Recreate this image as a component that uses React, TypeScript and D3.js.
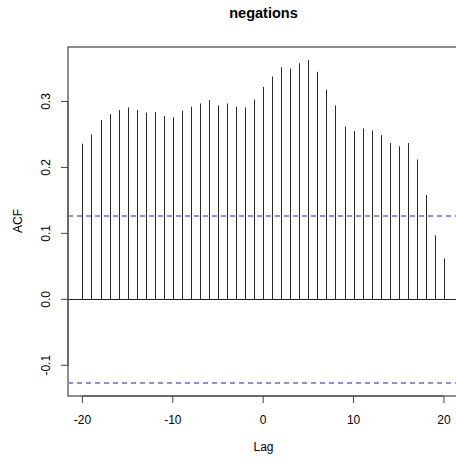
import React from "react";
import * as d3 from "d3";

const lags = d3.range(-20, 21);
const acfValues = [
  0.236, 0.25, 0.272, 0.281, 0.287, 0.291, 0.287, 0.283, 0.284, 0.278,
  0.276, 0.286, 0.292, 0.297, 0.302, 0.294, 0.297, 0.292, 0.291, 0.303,
  0.322, 0.338, 0.352, 0.35, 0.358, 0.363, 0.345, 0.318, 0.294, 0.262,
  0.255, 0.259, 0.256, 0.249, 0.237, 0.232, 0.237, 0.212, 0.158, 0.097,
  0.062,
];
const xTicks = [-20, -10, 0, 10, 20];
const yTicks = [-0.1, 0.0, 0.1, 0.2, 0.3];
const confLimit = 0.127;
const title = "negations";
const xLabel = "Lag";
const yLabel = "ACF";

export default function App() {
  const W = 456, H = 461;
  const left = 68, right = 458.4, top = 47, bottom = 396;
  const xPad = (20 - -20) * 0.04;
  const x = d3.scaleLinear().domain([-20 - xPad, 20 + xPad]).range([left, right]);
  const yMin = -confLimit, yMax = d3.max(acfValues)!;
  const yPad = (yMax - yMin) * 0.04;
  const y = d3.scaleLinear().domain([yMin - yPad, yMax + yPad]).range([bottom, top]);
  const snap = (v: number) => Math.round(v) + 0.5;
  const font = "'Liberation Sans', Arial, Helvetica, sans-serif";
  const axisCol = "#444";
  return (
    <svg width={W} height={H} style={{ position: "absolute", left: 0, top: 0, background: "#fff" }} fontFamily={font}>
      <text x={263.5} y={18} textAnchor="middle" fontWeight="bold" fontSize={14.5} fill="#000">{title}</text>
      <rect x={left} y={top} width={right - left} height={bottom - top} fill="none" stroke={axisCol} strokeWidth={1.2} />
      {lags.map((l, i) => (
        <line key={l} x1={snap(x(l))} x2={snap(x(l))} y1={y(0)} y2={y(acfValues[i])} stroke="#2a2a2a" strokeWidth={1} />
      ))}
      <line x1={left} x2={right} y1={snap(y(0))} y2={snap(y(0))} stroke="#222" strokeWidth={1} />
      {[confLimit, -confLimit].map((c) => (
        <line key={String(c)} x1={left} x2={right} y1={Math.round(y(c))} y2={Math.round(y(c))} stroke="#8c8cee" strokeWidth={2} strokeDasharray="5,4" />
      ))}
      {/* x axis */}
      <line x1={x(-20)} x2={x(20)} y1={bottom} y2={bottom} stroke={axisCol} />
      {xTicks.map((t) => (
        <g key={t}>
          <line x1={x(t)} x2={x(t)} y1={bottom} y2={bottom + 7} stroke={axisCol} />
          <text x={x(t)} y={424} textAnchor="middle" fontSize={12} fill="#000">{t}</text>
        </g>
      ))}
      <text x={263.5} y={451} textAnchor="middle" fontSize={12} fill="#000">{xLabel}</text>
      {/* y axis */}
      <line x1={left} x2={left} y1={y(yTicks[0])} y2={y(yTicks[yTicks.length - 1])} stroke={axisCol} />
      {yTicks.map((t) => (
        <g key={t}>
          <line x1={left - 7} x2={left} y1={y(t)} y2={y(t)} stroke={axisCol} />
          <text transform={`translate(${50},${y(t)}) rotate(-90)`} textAnchor="middle" fontSize={12} fill="#000">{t.toFixed(1)}</text>
        </g>
      ))}
      <text transform={`translate(${22},${221}) rotate(-90)`} textAnchor="middle" fontSize={12} fill="#000">{yLabel}</text>
    </svg>
  );
}
